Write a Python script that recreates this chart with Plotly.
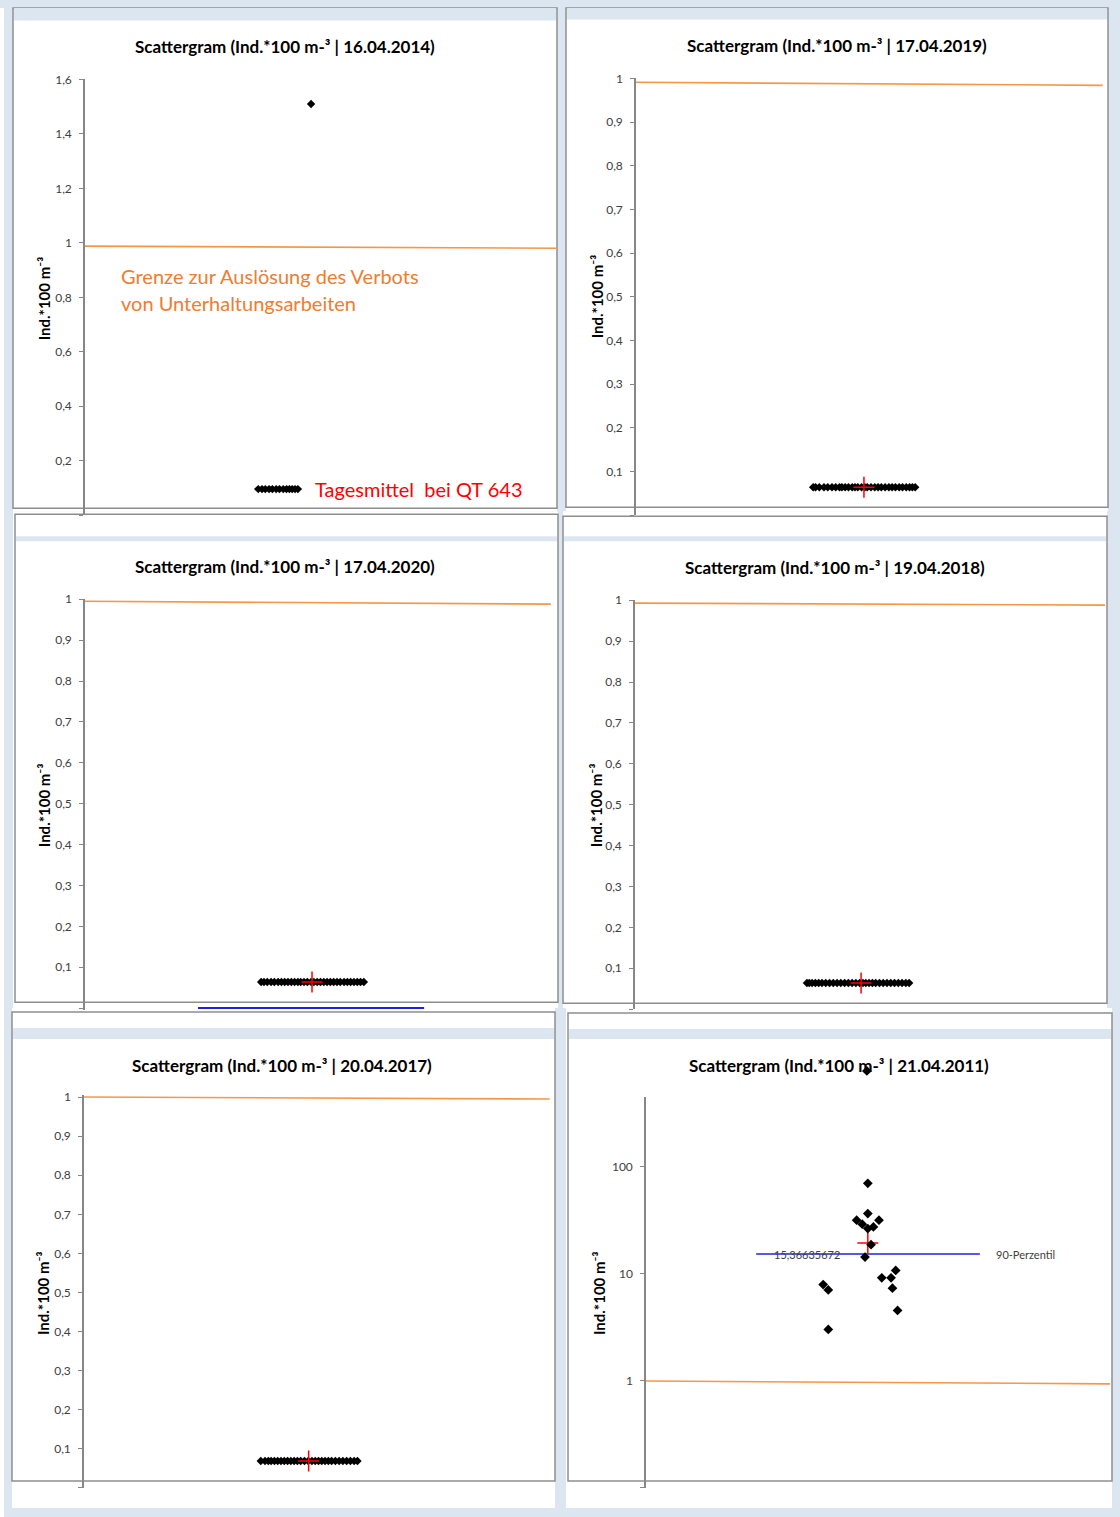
import math
import plotly.graph_objects as go

W, H = 1120, 1517

# ---------------- data ----------------
dates = ["16.04.2014", "17.04.2019", "17.04.2020", "19.04.2018", "20.04.2017", "21.04.2011"]

# panel 1 (16.04.2014)
p1_x = [3.67, 3.75, 3.82, 3.90, 3.97, 4.05, 4.12, 4.20, 4.27, 4.33, 4.39, 4.45, 4.51, 4.79]
p1_y = [0.096, 0.096, 0.096, 0.096, 0.096, 0.096, 0.096, 0.096, 0.096, 0.096, 0.096, 0.096, 0.096, 1.51]

# panel 2 (17.04.2019)
p2_x = [3.77, 3.82, 3.90, 4.00, 4.08, 4.17, 4.25, 4.33, 4.38, 4.45, 4.52, 4.60, 4.66, 4.72, 4.80, 4.87,
        4.92, 5.00, 5.08, 5.15, 5.22, 5.30, 5.38, 5.45, 5.52, 5.60, 5.67, 5.75, 5.82, 5.88, 5.94]
p2_y = [0.064, 0.064, 0.064, 0.064, 0.064, 0.064, 0.064, 0.064, 0.064, 0.064, 0.064, 0.064, 0.064, 0.064,
        0.064, 0.064, 0.064, 0.064, 0.064, 0.064, 0.064, 0.064, 0.064, 0.064, 0.064, 0.064, 0.064, 0.064,
        0.064, 0.064, 0.064]

# panel 3 (17.04.2020)
p3_x = [3.74, 3.80, 3.87, 3.95, 4.02, 4.10, 4.17, 4.24, 4.31, 4.38, 4.45, 4.52, 4.58, 4.65, 4.72, 4.80,
        4.86, 4.93, 5.00, 5.07, 5.14, 5.21, 5.28, 5.35, 5.42, 5.50, 5.57, 5.64, 5.71, 5.78, 5.85, 5.92]
p3_y = [0.064, 0.064, 0.064, 0.064, 0.064, 0.064, 0.064, 0.064, 0.064, 0.064, 0.064, 0.064, 0.064, 0.064,
        0.064, 0.064, 0.064, 0.064, 0.064, 0.064, 0.064, 0.064, 0.064, 0.064, 0.064, 0.064, 0.064, 0.064,
        0.064, 0.064, 0.064, 0.064]

# panel 4 (19.04.2018)
p4_x = [3.65, 3.70, 3.76, 3.83, 3.90, 3.97, 4.05, 4.13, 4.21, 4.29, 4.37, 4.45, 4.53, 4.61, 4.69, 4.77,
        4.84, 4.90, 4.97, 5.04, 5.11, 5.19, 5.27, 5.35, 5.43, 5.51, 5.59, 5.67, 5.75, 5.82]
p4_y = [0.064, 0.064, 0.064, 0.064, 0.064, 0.064, 0.064, 0.064, 0.064, 0.064, 0.064, 0.064, 0.064, 0.064,
        0.064, 0.064, 0.064, 0.064, 0.064, 0.064, 0.064, 0.064, 0.064, 0.064, 0.064, 0.064, 0.064, 0.064,
        0.064, 0.064]

# panel 5 (20.04.2017)
p5_x = [3.77, 3.86, 3.93, 3.99, 4.06, 4.13, 4.20, 4.27, 4.34, 4.41, 4.48, 4.55, 4.62, 4.70, 4.78, 4.86,
        4.93, 5.00, 5.07, 5.14, 5.21, 5.28, 5.36, 5.44, 5.52, 5.60, 5.68, 5.76, 5.83]
p5_y = [0.069, 0.069, 0.069, 0.069, 0.069, 0.069, 0.069, 0.069, 0.069, 0.069, 0.069, 0.069, 0.069, 0.069,
        0.069, 0.069, 0.069, 0.069, 0.069, 0.069, 0.069, 0.069, 0.069, 0.069, 0.069, 0.069, 0.069, 0.069,
        0.069]

# panel 6 (21.04.2011), log scale
p6_x = [4.75, 4.77, 4.77, 4.53, 5.01, 4.65, 4.89, 4.77, 4.84, 4.71, 5.37, 5.07, 5.27, 5.30, 3.81, 3.92, 5.41, 3.92]
p6_y = [790, 70.4, 36.7, 31.8, 31.8, 29.2, 27.5, 26.6, 18.8, 14.4, 10.8, 9.2, 9.2, 7.36, 7.96, 7.1, 4.57, 3.03]

# daily means (red crosses), panels 2..6
mean_x = [4.85, 4.82, 4.80, 4.79, 4.77]
mean_y = [0.064, 0.064, 0.064, 0.069, 19.5]

# threshold line (orange), start/end per panel
thr_x = [[0, 10], [0, 9.93], [0, 9.89], [0, 9.98], [0, 9.93], [0, 9.98]]
thr_y = [[0.988, 0.980], [0.991, 0.984], [0.995, 0.988], [0.993, 0.988], [1.0, 0.995], [1.0, 0.94]]

# 90th percentile lines (blue)
pct3_x = [2.40, 7.20]
pct3_y = [0, 0]
pct6_x = [2.37, 7.18]
pct6_val = 15.36635672
pct6_y = [pct6_val, pct6_val]

# tick values / labels (the axis minimum gets a bare tick mark)
ticks_p1 = [0.2, 0.4, 0.6, 0.8, 1.0, 1.2, 1.4, 1.6]
labels_p1 = ["0,2", "0,4", "0,6", "0,8", "1", "1,2", "1,4", "1,6"]
ticks_unit = [0.1, 0.2, 0.3, 0.4, 0.5, 0.6, 0.7, 0.8, 0.9, 1.0]
labels_unit = ["0,1", "0,2", "0,3", "0,4", "0,5", "0,6", "0,7", "0,8", "0,9", "1"]
ticks_log = [1, 10, 100]
labels_log = ["1", "10", "100"]
axis_min_tick = [0, 0, 0, 0, 0, 0.1]

# ---------------- helpers ----------------
FONT = "Lato"
BAND = "#dce6f1"
FRAME = "#8e8e8e"
AXIS = "#878787"
ORANGE = "#f79646"


def px(x):
    return x / W


def py(y):
    # page offset of the rendered figure is compensated here
    yy = (y - 7.6) / 0.995
    return min(1.0, max(0.0, 1 - yy / H))


fig = go.Figure()

# plot areas in pixels: (left, right, top, bottom)
areas = [
    (85, 557, 79, 515),
    (636, 1106, 78, 515),
    (85, 556, 599, 1009.6),
    (635, 1106, 600, 1009),
    (84, 553, 1095, 1488),
    (646, 1111, 1097, 1488),
]
yranges = [[0, 1.6], [0, 1], [-0.004, 1], [0, 1], [0, 1.005], [-1, math.log10(450)]]
yticks = [(ticks_p1, labels_p1), (ticks_unit, labels_unit), (ticks_unit, labels_unit),
          (ticks_unit, labels_unit), (ticks_unit, labels_unit), (ticks_log, labels_log)]

layout_axes = {}
for i, (l, r, t, b) in enumerate(areas):
    n = "" if i == 0 else str(i + 1)
    ytype = "log" if i == 5 else "linear"
    layout_axes["xaxis" + n] = dict(domain=[px(l), px(r)], range=[0, 10], visible=False,
                                    anchor="y" + n, fixedrange=True)
    tv, tt = yticks[i]
    layout_axes["yaxis" + n] = dict(
        domain=[py(b), py(t)], range=yranges[i], anchor="x" + n, type=ytype,
        showline=True, linecolor=AXIS, linewidth=1.5,
        ticks="outside", ticklen=4, tickwidth=1.2, tickcolor=AXIS,
        tickmode="array", tickvals=tv, ticktext=tt, ticklabelstandoff=5,
        tickfont=dict(family=FONT, size=12, color="#404040"),
        minor=dict(tickmode="array", tickvals=[axis_min_tick[i]], ticks="outside",
                   ticklen=4, tickwidth=1.2, tickcolor=AXIS, showgrid=False),
        showgrid=False, zeroline=False, fixedrange=True,
    )
    # inner half of the crossing tick marks
    layout_axes["yaxis" + str(7 + i)] = dict(
        overlaying="y" + n, anchor="x" + n, range=yranges[i], type=ytype,
        showline=False, ticks="inside", ticklen=4, tickwidth=1.2, tickcolor=AXIS,
        tickmode="array", tickvals=[axis_min_tick[i]] + tv, showticklabels=False,
        showgrid=False, zeroline=False, fixedrange=True,
    )

# taller hidden log axis for panel 6 so the top outlier (above the axis line) is drawn on the same scale
l6, r6, t6, b6 = areas[5]
decade_px = (b6 - t6) / (yranges[5][1] - yranges[5][0])
top_ext = 1050
layout_axes["yaxis13"] = dict(domain=[py(b6), py(top_ext)], anchor="x6", type="log",
                              range=[yranges[5][0], yranges[5][0] + (b6 - top_ext) / decade_px],
                              visible=False, fixedrange=True)

panel_data = [(p1_x, p1_y), (p2_x, p2_y), (p3_x, p3_y), (p4_x, p4_y), (p5_x, p5_y), (p6_x, p6_y)]

for i in range(6):
    n = "" if i == 0 else str(i + 1)
    xa, ya = "x" + n, "y" + n
    # threshold line
    fig.add_trace(go.Scatter(x=thr_x[i], y=thr_y[i], mode="lines", xaxis=xa, yaxis=ya,
                             line=dict(color=ORANGE, width=1.6), hoverinfo="skip"))
    if i == 2:
        fig.add_trace(go.Scatter(x=pct3_x, y=pct3_y, mode="lines", xaxis=xa, yaxis=ya,
                                 line=dict(color="#1f1fe0", width=2), hoverinfo="skip"))
    if i == 5:
        fig.add_trace(go.Scatter(x=pct6_x, y=pct6_y, mode="lines", xaxis=xa, yaxis=ya,
                                 line=dict(color="#1f1fe0", width=1.5), hoverinfo="skip"))
    xs, ys = panel_data[i]
    fig.add_trace(go.Scatter(x=xs, y=ys, mode="markers", xaxis=xa, yaxis="y13" if i == 5 else ya,
                             marker=dict(symbol="diamond", size=7.5 if i == 5 else 6.5, color="black",
                                         line=dict(width=0))))
    if i >= 1:
        fig.add_trace(go.Scatter(x=[mean_x[i - 1]], y=[mean_y[i - 1]], mode="markers", xaxis=xa, yaxis=ya,
                                 cliponaxis=False,
                                 marker=dict(symbol="cross-thin", size=15, color="red",
                                             line=dict(color="red", width=1.5))))

# ---------------- background panels ----------------
shapes = []


def rect(x0, y0, x1, y1, fill=None, line=None, lw=1.5):
    shapes.append(dict(type="rect", xref="paper", yref="paper", layer="below",
                       x0=px(x0), x1=px(x1), y0=py(y1), y1=py(y0),
                       fillcolor=fill if fill else "rgba(0,0,0,0)",
                       line=dict(color=line if line else "rgba(0,0,0,0)", width=lw if line else 0)))


# white page edges
rect(0, 0, W, 5, fill="white")
rect(0, 0, 4, H, fill="white")
# white chart areas
for (x0, y0, x1, y1) in [(13, 5, 557, 511), (13, 511, 558, 1008), (12, 1008, 555, 1508),
                         (566, 5, 1108, 511), (563, 511, 1107, 1008), (566, 1008, 1112, 1508)]:
    rect(x0, y0, x1, y1, fill="white")
# frames
frames = [(13, 5, 557, 508), (566, 5, 1108, 507), (15, 514, 558, 1002),
          (563, 516, 1107, 1003), (12, 1012, 555, 1481), (568, 1013, 1112, 1481)]
for (x0, y0, x1, y1) in frames:
    rect(x0, y0, x1, y1, line=FRAME)
# title bands
for (x0, y0, x1, y1) in [(14, 4, 556, 20), (567, 4, 1107, 19), (16, 536, 557, 541),
                         (564, 536, 1106, 541), (13, 1028, 554, 1039), (569, 1029, 1111, 1039)]:
    rect(x0, y0, x1, y1, fill=BAND)

# ---------------- text ----------------
annotations = []
title_pos = [(285, 46), (837, 45), (285, 566), (835, 567), (282, 1065), (839, 1065)]
ytitle_pos = [(44, 298), (597, 296), (44, 805), (596, 805), (43, 1293), (599, 1293)]
for i in range(6):
    tx, ty = title_pos[i]
    annotations.append(dict(xref="paper", yref="paper", x=px(tx), y=py(ty), xanchor="center", yanchor="middle",
                            showarrow=False,
                            text="Scattergram (Ind.*100 m-³ | " + dates[i] + ")",
                            font=dict(family=FONT, size=17, color="black", weight="bold")))
    ax, ay = ytitle_pos[i]
    annotations.append(dict(xref="paper", yref="paper", x=px(ax), y=py(ay), xanchor="center", yanchor="middle",
                            showarrow=False, textangle=-90,
                            text="Ind.*100 m⁻³",
                            font=dict(family=FONT, size=15, color="black", weight="bold")))

# panel 1 notes
annotations.append(dict(xref="x", yref="y", x=0.72, y=0.877, xanchor="left", yanchor="middle", showarrow=False,
                        text="Grenze zur Auslösung des Verbots",
                        font=dict(family=FONT, size=20, color="#ed7d31")))
annotations.append(dict(xref="x", yref="y", x=0.72, y=0.778, xanchor="left", yanchor="middle", showarrow=False,
                        text="von Unterhaltungsarbeiten",
                        font=dict(family=FONT, size=20, color="#ed7d31")))
annotations.append(dict(xref="x", yref="y", x=4.83, y=p1_y[0], xanchor="left", yanchor="middle", showarrow=False,
                        text="Tagesmittel\u00a0 bei QT 643",
                        font=dict(family=FONT, size=20, color="#ff0000")))

# panel 6 percentile labels
annotations.append(dict(xref="x6", yref="y6", x=3.46, y=math.log10(pct6_val), xanchor="center", yanchor="middle",
                        showarrow=False, text=f"{pct6_val:.8f}".replace(".", ","),
                        font=dict(family=FONT, size=11, color="#404040")))
annotations.append(dict(xref="x6", yref="y6", x=8.17, y=math.log10(pct6_val), xanchor="center", yanchor="middle",
                        showarrow=False, text="90-Perzentil",
                        font=dict(family=FONT, size=11, color="#404040")))

fig.update_layout(
    width=W, height=H, margin=dict(l=0, r=0, t=0, b=0),
    paper_bgcolor=BAND, plot_bgcolor="rgba(0,0,0,0)",
    showlegend=False, separators=",.",
    shapes=shapes, annotations=annotations,
    **layout_axes,
)

fig.write_html("out.html")
